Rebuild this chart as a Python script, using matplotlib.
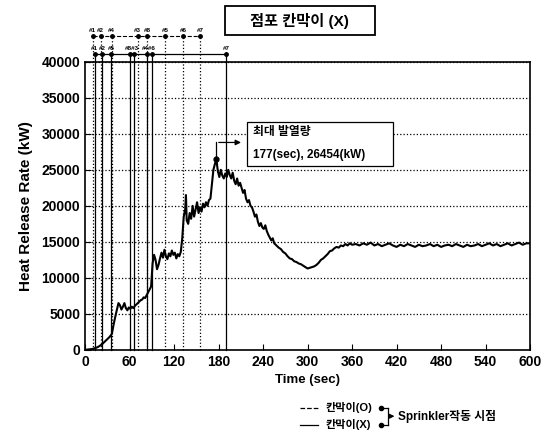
import numpy as np
import matplotlib
matplotlib.use("Agg")
import matplotlib.pyplot as plt
from matplotlib.patches import Rectangle, FancyArrowPatch
from matplotlib.lines import Line2D

plt.rcParams['font.family'] = ['Liberation Sans', 'Noto Sans CJK KR', 'DejaVu Sans']
plt.rcParams['font.weight'] = 'bold'

# heat release rate, growth phase (sec, kW)
t_rise = [0, 3, 6, 9, 12, 15, 18, 21, 24, 27, 30, 33, 36, 39, 42, 45, 47, 49, 51, 53,
          55, 57, 59, 61, 63, 65, 67, 69, 71, 73, 75, 77, 79, 81, 83, 85, 87, 89, 91, 93,
          95, 97, 99, 101, 103, 105, 107, 109, 111, 113, 115, 117, 119, 121, 123, 125, 127, 129, 131, 133,
          135, 136, 137, 139, 141, 143, 145, 147, 149, 151, 153, 155, 157, 159, 161, 163, 165, 167, 169, 171,
          173, 175, 177, 179, 181, 183, 185, 187, 189, 191, 193, 195, 197, 199, 201, 203, 205, 207, 209, 211,
          213, 215, 217, 219, 221, 223, 225, 227, 229, 231, 233, 235, 237, 239, 241, 243, 245, 247, 249, 251,
          253, 255, 258, 261, 264, 267, 270, 273, 276, 279, 282, 285, 288, 291, 294, 297, 300, 303, 306, 309,
          312, 315, 318, 321, 324, 327, 330, 333, 336, 339, 342, 345, 348, 351, 354, 357, 360]
hrr_rise = [0, 50, 80, 120, 200, 300, 450, 650, 900, 1200, 1500, 1800, 2200, 3800, 5200, 6500, 6200, 5600, 6000, 6500,
            5800, 5500, 5900, 5700, 6000, 5800, 6100, 6300, 6500, 6700, 6900, 7000, 7300, 7200, 7600, 8000, 8400, 8800, 12000, 13200,
            12500, 11200, 11800, 12700, 13500, 12800, 13900, 13000, 12600, 13400, 13000, 13800, 13200, 13500, 12700, 13300, 13000, 13600, 15500, 18500,
            19500, 21500, 18000, 17500, 19000, 18200, 20000, 18500, 19500, 20500, 19000, 19800, 19200, 20300, 19800, 20500, 20000, 20800, 21000, 23000,
            25000, 25800, 26454, 24800, 24000, 25000, 24200, 23800, 24500, 24000, 25000, 24300, 23800, 24600, 23500, 23000, 23800, 22800, 23200, 22500,
            21800, 22200, 21000, 20500, 20800, 20000, 19800, 19200, 18500, 18800, 17800, 17200, 17600, 17000, 16800, 17300, 16500, 16000, 15600, 15200,
            15500, 14800, 14500, 14200, 14000, 13600, 13400, 13000, 12700, 12600, 12300, 12200, 12000, 11900, 11700, 11500, 11300, 11400, 11500, 11600,
            11800, 12100, 12500, 12700, 13000, 13300, 13700, 13800, 14100, 14300, 14200, 14500, 14400, 14700, 14500, 14800, 14600]

# steady phase
t_tail = np.arange(365, 601, 5)
hrr_tail = [14700, 14500, 14800, 14600, 14900, 14500, 14700, 14400, 14600, 14800, 14500, 14300,
            14600, 14400, 14700, 14500, 14300, 14600, 14400, 14500, 14700, 14400, 14600, 14300,
            14500, 14600, 14400, 14700, 14500, 14300, 14600, 14400, 14500, 14700, 14400, 14600,
            14800, 14500, 14700, 14400, 14600, 14800, 14500, 14700, 14900, 14600, 14800, 14800]

# sprinkler activation times
spr_o = [10, 21, 36, 71, 84, 108, 132, 155]          # 칸막이(O), dashed
spr_o_lbl = ['#1', '#2', '#4', '#3', '#8', '#5', '#6', '#7']
spr_x = [13, 23, 35, 61, 66, 83, 90, 190]            # 칸막이(X), solid
# labels for the solid row; close pairs share one tag
spr_x_tag = ['#1', '#2', '#5', '#8#3', '#4#6', '#7']
spr_x_tag_at = [13, 23, 35, 63.5, 86.5, 190]

peak_t, peak_q = 177, 26454

t = np.concatenate([t_rise, t_tail])
q = np.concatenate([hrr_rise, hrr_tail])

fig = plt.figure(figsize=(5.42, 4.32), dpi=100)
ax = fig.add_axes([0.157, 0.19, 0.821, 0.667])

ax.plot(t, q, color='black', lw=1.5, zorder=4)
ax.set_xlim(0, 600)
ax.set_ylim(0, 40000)
ax.set_xticks(np.arange(0, 601, 60))
ax.set_yticks(np.arange(0, 40001, 5000))
ax.tick_params(direction='in', labelsize=10, length=4)
for lbl in ax.get_xticklabels() + ax.get_yticklabels():
    lbl.set_fontweight('bold')
ax.yaxis.grid(True, linestyle=':', color='black', lw=0.9)
for s in ax.spines.values():
    s.set_linewidth(1.2)
ax.set_xlabel('Time (sec)', fontsize=9.5, fontweight='bold', labelpad=4)
ax.set_ylabel('Heat Release Rate (kW)', fontsize=11, fontweight='bold', labelpad=6)

# sprinkler lines
tr = ax.get_xaxis_transform()
yo, yx = 1.089, 1.027
for x, l in zip(spr_o, spr_o_lbl):
    ax.plot([x, x], [0, yo], transform=tr, color='black', ls=':', lw=0.9, clip_on=False)
    ax.plot(x, yo, 'o', ms=2.5, color='black', transform=tr, clip_on=False)
    ax.text(x, yo + 0.012, l, transform=tr, ha='center', va='bottom', fontsize=4.5, fontweight='bold')
ax.plot([spr_o[0], spr_o[-1]], [yo, yo], transform=tr, color='black', ls='--', lw=0.8, clip_on=False)
for x in spr_x:
    ax.plot([x, x], [0, yx], transform=tr, color='black', ls='-', lw=0.9, clip_on=False)
    ax.plot(x, yx, 'o', ms=2.5, color='black', transform=tr, clip_on=False)
for x, l in zip(spr_x_tag_at, spr_x_tag):
    ax.text(x, yx + 0.012, l, transform=tr, ha='center', va='bottom', fontsize=4.5, fontweight='bold')
ax.plot([spr_x[0], spr_x[-1]], [yx, yx], transform=tr, color='black', lw=0.9, clip_on=False)

# peak annotation
ax.plot(peak_t, peak_q, 'o', ms=3.5, color='black', zorder=5)
ax.plot([peak_t, peak_t], [peak_q, 28800], color='black', lw=0.9, zorder=5)
ax.annotate('', xy=(214, 28800), xytext=(peak_t - 0.5, 28800),
            arrowprops=dict(arrowstyle='-|>', color='black', lw=0.9, mutation_scale=8), zorder=5)
ax.add_patch(Rectangle((218, 25500), 197, 6200, facecolor='white', edgecolor='black', lw=0.9, zorder=5))
ax.text(226, 30300, '최대 발열량', fontsize=8.5, fontweight='bold', va='center', zorder=6)
ax.text(226, 27100, '177(sec), 26454(kW)', fontsize=8.5, fontweight='bold', va='center', zorder=6)

# title box
fig.patches.append(Rectangle((0.415, 0.919), 0.277, 0.067, transform=fig.transFigure,
                             facecolor='white', edgecolor='black', lw=1.3))
fig.text(0.553, 0.952, '점포 칸막이 (X)', ha='center', va='center', fontsize=11, fontweight='bold')

# bottom legend
y1, y2 = 0.056, 0.017
fig.lines.append(Line2D([0.553, 0.587], [y1, y1], transform=fig.transFigure, color='black', ls='--', lw=0.9))
fig.lines.append(Line2D([0.553, 0.587], [y2, y2], transform=fig.transFigure, color='black', lw=0.9))
fig.text(0.600, y1, '칸막이(O)', fontsize=8, fontweight='bold', va='center')
fig.text(0.600, y2, '칸막이(X)', fontsize=8, fontweight='bold', va='center')
for yy in (y1, y2):
    fig.lines.append(Line2D([0.703], [yy], transform=fig.transFigure, marker='o', ms=3, color='black'))
    fig.lines.append(Line2D([0.703, 0.716], [yy, yy], transform=fig.transFigure, color='black', lw=0.9))
fig.lines.append(Line2D([0.716, 0.716], [y1, y2], transform=fig.transFigure, color='black', lw=0.9))
ym = (y1 + y2) / 2
fig.add_artist(FancyArrowPatch((0.716, ym), (0.733, ym), transform=fig.transFigure,
                               arrowstyle='-|>', mutation_scale=7, color='black', lw=0.9))
fig.text(0.735, ym, 'Sprinkler작동 시점', fontsize=8.5, fontweight='bold', va='center')

fig.savefig('out.png', dpi=100)
